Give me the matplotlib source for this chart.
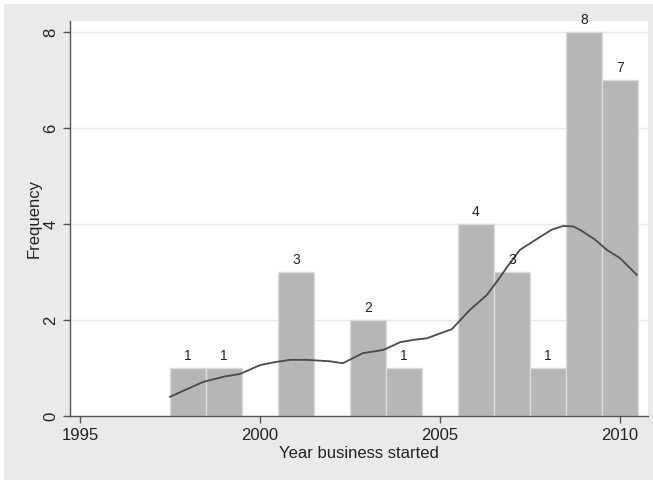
import numpy as np
import matplotlib.pyplot as plt
from matplotlib.patches import Rectangle

plt.rcParams['font.family'] = ['Liberation Sans', 'DejaVu Sans']

# histogram counts by start year
years = [1998, 1999, 2001, 2003, 2004, 2006, 2007, 2008, 2009, 2010]
counts = [1, 1, 3, 2, 1, 4, 3, 1, 8, 7]

# kernel density overlay, scaled to frequency
kx = [1997.5, 1998.0, 1998.42, 1999.0, 1999.44, 2000.0, 2000.4, 2000.83, 2001.3,
      2001.94, 2002.3, 2002.86, 2003.42, 2003.9, 2004.3, 2004.64, 2005.0,
      2005.33, 2005.83, 2006.3, 2006.6, 2006.86, 2007.22, 2007.78, 2008.1,
      2008.42, 2008.7, 2008.9, 2009.3, 2009.64, 2010.0, 2010.47]
ky = [0.40, 0.57, 0.71, 0.82, 0.875, 1.06, 1.12, 1.17, 1.17,
      1.14, 1.10, 1.31, 1.375, 1.54, 1.59, 1.62, 1.72,
      1.81, 2.21, 2.52, 2.82, 3.10, 3.46, 3.73, 3.88,
      3.96, 3.95, 3.875, 3.68, 3.46, 3.29, 2.94]

fig = plt.figure(figsize=(6.53, 4.8), dpi=100)
fig.patch.set_facecolor('white')
# stata-style grey backdrop
fig.patches.append(Rectangle((4/653, 0), 649/653, 476/480,
                             transform=fig.transFigure, facecolor='#eaeaea',
                             edgecolor='none', zorder=-1))

ax = fig.add_axes([70/653, 1-416/480, 578/653, 395/480])
ax.set_zorder(2)
ax.set_facecolor('white')

ax.bar(years, counts, width=1.0, color='#b4b6b8', edgecolor='#dcdcdc',
       linewidth=1, zorder=2)
for x, c in zip(years, counts):
    ax.text(x, c + 0.11, str(c), ha='center', va='bottom', fontsize=10,
            color='#222222', clip_on=False, zorder=4)

ax.plot(kx, ky, color='#4a4a4a', linewidth=1.3, zorder=3)

ax.set_xlim(1994.72, 2010.78)
ax.set_ylim(0, 8.23)
ax.set_xticks([1995, 2000, 2005, 2010])
ax.set_yticks([0, 2, 4, 6, 8])
for g in [2, 4, 6, 8]:
    ax.axhline(g, color='#e8e8e8', linewidth=1, zorder=1)

for s in ['top', 'right']:
    ax.spines[s].set_visible(False)
for s in ['left', 'bottom']:
    ax.spines[s].set_color('#555555')
    ax.spines[s].set_linewidth(1)

ax.tick_params(axis='both', length=5, width=1, color='#555555',
               labelsize=12, labelcolor='#222222')
for lab in ax.get_yticklabels():
    lab.set_rotation(90)
    lab.set_va('center')

ax.set_xlabel('Year business started', fontsize=12, color='#222222', labelpad=2)
ax.set_ylabel('Frequency', fontsize=12, color='#222222', labelpad=1)

fig.savefig('out.png', dpi=100)
